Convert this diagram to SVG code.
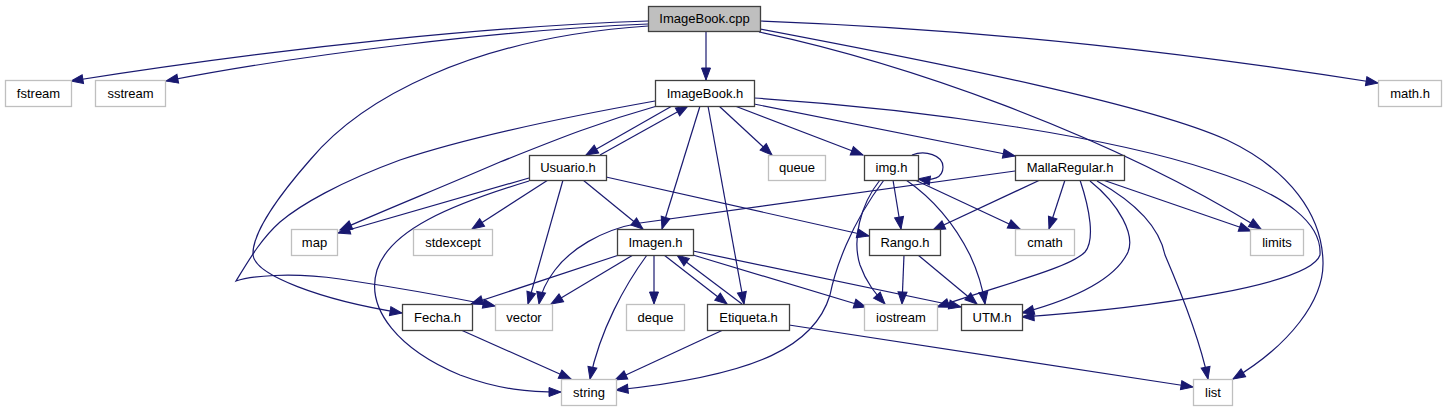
<svg xmlns="http://www.w3.org/2000/svg" width="1447" height="411" viewBox="0 0 1447 411">
<defs>
<style>
.n rect{fill:#fff;stroke:#404040;stroke-width:1.3}
.s rect{fill:#fff;stroke:#bfbfbf;stroke-width:1.3}
.root rect{fill:#bfbfbf;stroke:#404040;stroke-width:1.3}
text{font-family:"Liberation Sans",Arial,sans-serif;font-size:13px;text-anchor:middle;fill:#000}
#edges path{fill:none;stroke:#191970;stroke-width:1.2;marker-end:url(#a)}
</style>
<marker id="a" markerWidth="13" markerHeight="10" refX="12" refY="4.5" orient="auto" markerUnits="userSpaceOnUse" overflow="visible">
<path d="M0,0 L12,4.5 L0,9 z" fill="#191970" stroke="#191970" stroke-width="1"/>
</marker>
</defs>
<rect width="1447" height="411" fill="#fff"/>
<g id="edges">
<path d="M648,21 C500,26 300,45 71,81"/>
<path d="M648,24 C500,30 300,55 166,81"/>
<path d="M706,31 L706,80"/>
<path d="M760,21 C1000,30 1200,55 1378,83"/>
<path d="M759,32 C900,62 1100,130 1261,229"/>
<path d="M760,29 C950,65 1150,105 1227,140 C1290,170 1322,215 1323,262 C1324,300 1290,345 1233,379"/>
<path d="M648,26 C470,38 360,100 310,160 C275,200 252,235 253,255 C255,275 320,300 402,313"/>
<path d="M672,106 L586,155"/>
<path d="M600,155 L688,106"/>
<path d="M657,106 C600,122 560,138 500,162 C440,188 380,212 340,230"/>
<path d="M655,101 C560,118 460,140 400,160 C340,182 300,205 280,222 C262,238 250,258 236,281 C250,276 290,272 340,279 C400,288 450,297 495,306"/>
<path d="M700,106 L662,229"/>
<path d="M708,106 L744,304"/>
<path d="M719,106 L772,155"/>
<path d="M735,106 L863,155"/>
<path d="M754,104 L1015,156"/>
<path d="M754,98 C940,110 1120,140 1210,170 C1290,195 1322,225 1320,255 C1310,285 1150,308 1022,317"/>
<path d="M529,178 L338,233"/>
<path d="M548,180 L472,229"/>
<path d="M563,180 L528,304"/>
<path d="M583,180 L643,229"/>
<path d="M606,177 L869,236"/>
<path d="M529,181 C450,205 390,230 377,270 C365,310 400,350 460,375 C500,390 530,392 561,392"/>
<path d="M619,255 L471,304"/>
<path d="M633,255 L551,304"/>
<path d="M647,255 C625,285 600,330 590,379"/>
<path d="M654,255 L654,304"/>
<path d="M664,255 L727,304"/>
<path d="M742,304 L677,255"/>
<path d="M693,255 L866,307"/>
<path d="M693,251 L961,307"/>
<path d="M461,330 L571,379"/>
<path d="M723,330 L615,380"/>
<path d="M789,325 L1193,387"/>
<path d="M912,155 C925,150 943,155 943,167 C943,178 933,181 918,179"/>
<path d="M893,180 L901,229"/>
<path d="M880,180 C860,205 852,240 860,265 C866,282 875,293 885,304"/>
<path d="M884,180 C850,225 835,270 830,295 C815,345 760,375 616,390"/>
<path d="M906,180 C935,200 955,225 970,255 C978,272 983,290 985,304"/>
<path d="M915,180 L1020,229"/>
<path d="M904,255 L902,304"/>
<path d="M918,255 L977,304"/>
<path d="M1040,180 L933,230"/>
<path d="M1065,180 L1049,229"/>
<path d="M1103,180 L1251,231"/>
<path d="M1080,180 C1090,210 1095,240 1085,252 C1070,268 1000,285 937,307"/>
<path d="M1090,181 C1120,205 1135,235 1128,252 C1115,280 1070,300 1022,313"/>
<path d="M1097,181 C1140,205 1160,230 1165,255 C1180,290 1200,340 1208,379"/>
<path d="M1015,171 L640,223 C600,230 570,250 555,270 C545,283 541,293 539,304"/>
</g>
<g id="n_cpp" class="root"><rect x="648.5" y="6.5" width="112" height="25"/><text x="704.5" y="23">ImageBook.cpp</text></g>
<g id="n_fstream" class="s"><rect x="5.5" y="80.5" width="66" height="26"/><text x="38.5" y="97.5">fstream</text></g>
<g id="n_sstream" class="s"><rect x="95.5" y="80.5" width="70" height="26"/><text x="130.5" y="97.5">sstream</text></g>
<g id="n_imagebookh" class="n"><rect x="655.5" y="80.5" width="99" height="26"/><text x="705" y="97.5">ImageBook.h</text></g>
<g id="n_math" class="s"><rect x="1378.5" y="80.5" width="63" height="26"/><text x="1410" y="97.5">math.h</text></g>
<g id="n_usuario" class="n"><rect x="529.5" y="155.5" width="77" height="25"/><text x="568" y="172">Usuario.h</text></g>
<g id="n_queue" class="s"><rect x="768.5" y="155.5" width="57" height="25"/><text x="797" y="172">queue</text></g>
<g id="n_img" class="n"><rect x="864.5" y="155.5" width="54" height="25"/><text x="891.5" y="172">img.h</text></g>
<g id="n_malla" class="n"><rect x="1015.5" y="155.5" width="109" height="25"/><text x="1070" y="172">MallaRegular.h</text></g>
<g id="n_map" class="s"><rect x="291.5" y="229.5" width="46" height="26"/><text x="314.5" y="246.5">map</text></g>
<g id="n_stdexcept" class="s"><rect x="413.5" y="229.5" width="79" height="26"/><text x="453" y="246.5">stdexcept</text></g>
<g id="n_imagen" class="n"><rect x="617.5" y="229.5" width="76" height="26"/><text x="655.5" y="246.5">Imagen.h</text></g>
<g id="n_rango" class="n"><rect x="869.5" y="229.5" width="71" height="26"/><text x="905" y="246.5">Rango.h</text></g>
<g id="n_cmath" class="s"><rect x="1015.5" y="229.5" width="59" height="26"/><text x="1045" y="246.5">cmath</text></g>
<g id="n_limits" class="s"><rect x="1250.5" y="229.5" width="53" height="26"/><text x="1277" y="246.5">limits</text></g>
<g id="n_fecha" class="n"><rect x="402.5" y="304.5" width="70" height="26"/><text x="437.5" y="321.5">Fecha.h</text></g>
<g id="n_vector" class="s"><rect x="495.5" y="304.5" width="57" height="26"/><text x="524" y="321.5">vector</text></g>
<g id="n_deque" class="s"><rect x="626.5" y="304.5" width="58" height="26"/><text x="655.5" y="321.5">deque</text></g>
<g id="n_etiqueta" class="n"><rect x="707.5" y="304.5" width="82" height="26"/><text x="748.5" y="321.5">Etiqueta.h</text></g>
<g id="n_iostream" class="s"><rect x="864.5" y="304.5" width="73" height="26"/><text x="901" y="321.5">iostream</text></g>
<g id="n_utm" class="n"><rect x="961.5" y="304.5" width="61" height="26"/><text x="992" y="321.5">UTM.h</text></g>
<g id="n_string" class="s"><rect x="561.5" y="379.5" width="55" height="26"/><text x="589" y="396.5">string</text></g>
<g id="n_list" class="s"><rect x="1193.5" y="379.5" width="39" height="26"/><text x="1213" y="396.5">list</text></g>
</svg>
